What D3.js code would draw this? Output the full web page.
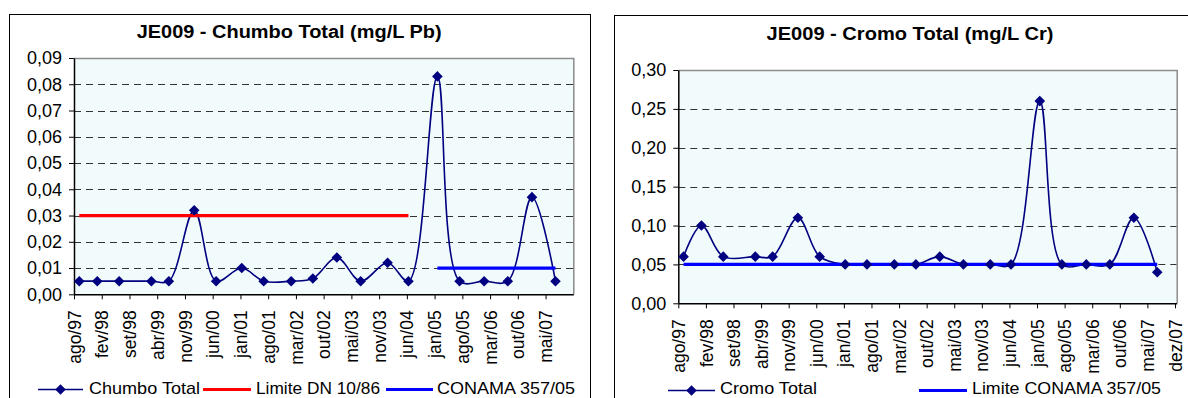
<!DOCTYPE html>
<html><head><meta charset="utf-8">
<script src="https://cdn.jsdelivr.net/npm/d3@7"></script>
<style>
body{margin:0;background:#fff}
text{font-family:"Liberation Sans",Arial,sans-serif;fill:#000}
</style>
</head><body>
<svg id="c" width="1188" height="398"></svg>
<script>
// ---------- DATA ----------
const sampleDates = ["1997-09-10","1998-01-24","1998-07-09","1999-03-10","1999-07-20","2000-01-28",
  "2000-07-12","2001-01-22","2001-07-07","2002-01-31","2002-07-14","2003-01-12","2003-07-11",
  "2004-01-31","2004-07-07","2005-02-11","2005-07-29","2006-01-31","2006-07-29","2007-01-28","2007-07-25"];
const chumboTotal = [0.005,0.005,0.005,0.005,0.005,0.032,0.005,0.010,0.005,0.005,0.006,0.014,0.005,
  0.012,0.005,0.083,0.005,0.005,0.005,0.037,0.005];
const limiteDN = [0.03,0.03,0.03,0.03,0.03,0.03,0.03,0.03,0.03,0.03,0.03,0.03,0.03,0.03,0.03,
  null,null,null,null,null,null];
const conamaPb = [null,null,null,null,null,null,null,null,null,null,null,null,null,null,null,
  0.01,0.01,0.01,0.01,0.01,0.01];
const cromoTotal = [0.06,0.10,0.06,0.06,0.06,0.11,0.06,0.05,0.05,0.05,0.05,0.06,0.05,0.05,0.05,
  0.26,0.05,0.05,0.05,0.11,0.04];
const conamaCr = [0.05,0.05,0.05,0.05,0.05,0.05,0.05,0.05,0.05,0.05,0.05,0.05,0.05,0.05,0.05,
  0.05,0.05,0.05,0.05,0.05,0.05];
const chumboYTicks = [0,0.01,0.02,0.03,0.04,0.05,0.06,0.07,0.08,0.09];
const cromoYTicks = [0,0.05,0.10,0.15,0.20,0.25,0.30];
const xTickLabels = ["ago/97","fev/98","set/98","abr/99","nov/99","jun/00","jan/01","ago/01","mar/02",
  "out/02","mai/03","nov/03","jun/04","jan/05","ago/05","mar/06","out/06","mai/07","dez/07"];
const axisStartDate = "1997-08-01";
const tickStepDays = 210;

// ---------- DRAW ----------
const parse = d3.timeParse("%Y-%m-%d");
const dates = sampleDates.map(parse);
const start = parse(axisStartDate);
const tickDates = xTickLabels.map((_, i) => d3.timeDay.offset(start, i * tickStepDays));
const svg = d3.select("#c");
svg.append("rect").attr("width",1188).attr("height",398).attr("fill","#fff");

// frames
svg.append("rect").attr("x",9.5).attr("y",14.5).attr("width",581).attr("height",420)
  .attr("fill","#fff").attr("stroke","#000").attr("stroke-width",1);
svg.append("rect").attr("x",614.5).attr("y",15.5).attr("width",620).attr("height",420)
  .attr("fill","#fff").attr("stroke","#000").attr("stroke-width",1);

const NAVY = "#000080";
const diamond = d3.symbol().type(d3.symbolSquare).size(56);

function drawChart(cfg) {
  const g = svg.append("g");
  const x = d3.scaleTime().domain([start, cfg.xEnd]).range([cfg.left, cfg.right]);
  const y = d3.scaleLinear().domain([0, cfg.yMax]).range([cfg.bottom, cfg.top]);

  g.append("rect").attr("x",cfg.left).attr("y",cfg.top)
    .attr("width",cfg.right-cfg.left).attr("height",cfg.bottom-cfg.top).attr("fill","#f1fbfb");

  // gridlines
  g.selectAll(".grid").data(cfg.yTicks.filter(t => t > 0 && t < cfg.yMax)).join("line")
    .attr("x1",cfg.left).attr("x2",cfg.right)
    .attr("y1",d => Math.round(y(d))+0.5).attr("y2",d => Math.round(y(d))+0.5)
    .attr("stroke","#333").attr("stroke-dasharray","7,5").attr("stroke-width",1);

  // plot border top/right
  g.append("path").attr("d",`M${cfg.left},${cfg.top+0.5}H${cfg.right+0.5}V${cfg.bottom}`)
    .attr("fill","none").attr("stroke","#8c8c8c").attr("stroke-width",1.5);

  // y axis
  const fmt = d3.format(cfg.yFmt);
  const ya = g.append("g").attr("transform",`translate(${cfg.left},0)`)
    .call(d3.axisLeft(y).tickValues(cfg.yTicks).tickSize(5).tickSizeOuter(0).tickPadding(7)
      .tickFormat(d => fmt(d).replace(".", ",")));
  ya.select(".domain").attr("stroke","#000").attr("stroke-width",1.5);
  ya.selectAll(".tick line").attr("stroke","#000");
  ya.selectAll("text").attr("font-size",18).attr("font-family","Liberation Sans, Arial").attr("fill","#000");

  // x axis
  const xa = g.append("g").attr("transform",`translate(0,${cfg.bottom})`)
    .call(d3.axisBottom(x).tickValues(tickDates.slice(0, cfg.nTickLabels)).tickSize(5).tickSizeOuter(0)
      .tickFormat((d,i) => xTickLabels[i]));
  xa.select(".domain").attr("stroke","#000").attr("stroke-width",1.5);
  xa.selectAll(".tick line").attr("stroke","#000");
  xa.selectAll("text").attr("font-size",17.5).attr("font-family","Liberation Sans, Arial").attr("fill","#000")
    .attr("transform","rotate(-90)").attr("x",-16).attr("y",0).attr("dy","0.35em").attr("text-anchor","end");

  // series line (smoothed)
  const pts = cfg.values.map((v,i) => ({d: dates[i], v}));
  const line = d3.line().defined(p => p.v != null).x(p => x(p.d)).y(p => y(p.v));
  g.append("path").datum(pts).attr("d", line.curve(d3.curveCatmullRom.alpha(0.5)))
    .attr("fill","none").attr("stroke",NAVY).attr("stroke-width",1.6);

  // limit lines
  cfg.limits.forEach(l => {
    const lp = l.values.map((v,i) => ({d: dates[i], v}));
    g.append("path").datum(lp).attr("d", d3.line().defined(p => p.v != null).x(p => x(p.d)).y(p => y(p.v)))
      .attr("fill","none").attr("stroke",l.color).attr("stroke-width",3.2);
  });

  // markers
  g.selectAll(".mk").data(pts.filter(p => p.v != null)).join("path")
    .attr("d", diamond).attr("fill",NAVY)
    .attr("transform", p => `translate(${x(p.d)},${y(p.v)}) rotate(45)`);

  // title
  g.append("text").attr("x",cfg.titleX).attr("y",cfg.titleY).attr("text-anchor","middle")
    .attr("font-weight","bold").attr("font-size",17.5)
    .attr("textLength",cfg.titleW).attr("lengthAdjust","spacingAndGlyphs").text(cfg.title);

  // legend
  cfg.legend.forEach(it => {
    g.append("line").attr("x1",it.x1).attr("x2",it.x2).attr("y1",it.y).attr("y2",it.y)
      .attr("stroke",it.color).attr("stroke-width",it.marker ? 1.6 : 3.2);
    if (it.marker) g.append("path").attr("d",diamond).attr("fill",NAVY)
      .attr("transform",`translate(${(it.x1+it.x2)/2},${it.y}) rotate(45)`);
    g.append("text").attr("x",it.tx).attr("y",it.ty).attr("font-size",17)
      .attr("textLength",it.tw).attr("lengthAdjust","spacingAndGlyphs").text(it.label);
  });
}

drawChart({
  left:74, right:573.3, top:58, bottom:294.3, yMax:0.09, yTicks:chumboYTicks, yFmt:".2f",
  xEnd: d3.timeDay.offset(start, 18*tickStepDays), nTickLabels:18,
  values: chumboTotal,
  limits:[{values:limiteDN, color:"#ff0000"},{values:conamaPb, color:"#0000ff"}],
  title:"JE009 - Chumbo Total (mg/L Pb)", titleX:289.2, titleY:38, titleW:305,
  legend:[
    {x1:38,x2:83,y:389.5,color:NAVY,marker:true,tx:89,ty:394,tw:111,label:"Chumbo Total"},
    {x1:203,x2:251,y:389.5,color:"#ff0000",tx:256,ty:394,tw:124,label:"Limite DN 10/86"},
    {x1:386,x2:433,y:389.5,color:"#0000ff",tx:437,ty:394,tw:138,label:"CONAMA 357/05"}
  ]
});
drawChart({
  left:678.3, right:1176.7, top:70, bottom:303.3, yMax:0.30, yTicks:cromoYTicks, yFmt:".2f",
  xEnd: d3.timeDay.offset(start, 18*tickStepDays + 13), nTickLabels:19,
  values: cromoTotal,
  limits:[{values:conamaCr, color:"#0000ff"}],
  title:"JE009 - Cromo Total (mg/L Cr)", titleX:910, titleY:40, titleW:287,
  legend:[
    {x1:668,x2:715,y:390.5,color:NAVY,marker:true,tx:720,ty:394,tw:97,label:"Cromo Total"},
    {x1:919,x2:967,y:390.5,color:"#0000ff",tx:972,ty:394,tw:189,label:"Limite CONAMA 357/05"}
  ]
});
</script>
</body></html>
